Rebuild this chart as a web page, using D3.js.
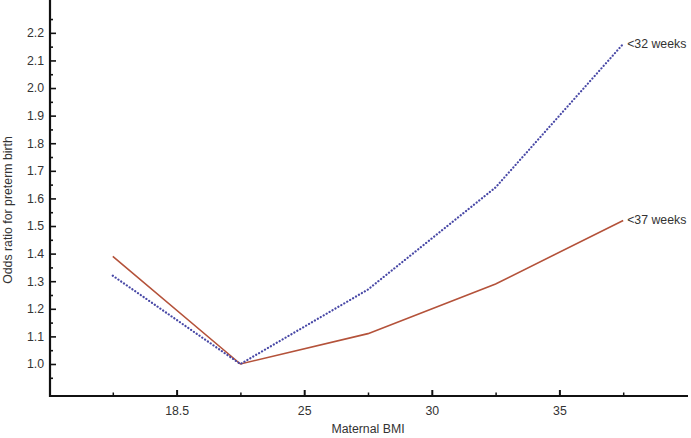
<!DOCTYPE html>
<html><head><meta charset="utf-8">
<script src="https://cdn.jsdelivr.net/npm/d3@7"></script>
<style>body{margin:0;background:#fff}svg{display:block}text{font-family:"Liberation Sans",Arial,sans-serif}</style>
</head><body>
<svg id="c" width="691" height="438"></svg>
<script>
// BMI groups, placed at evenly spaced axis slots
const categories = ["<18.5", "18.5–24.9", "25–29.9", "30–34.9", "≥35"];
const categorySlots = [1, 3, 5, 7, 9];
const series32 = [1.32, 1.00, 1.27, 1.64, 2.16]; // <32 weeks
const series37 = [1.39, 1.00, 1.11, 1.29, 1.52]; // <37 weeks
const xTickLabels = ["18.5", "25", "30", "35"];
const xTickSlots = [2, 4, 6, 8];
const xMinorSlots = [1, 3, 5, 7, 9];
const yTicks = [1.0, 1.1, 1.2, 1.3, 1.4, 1.5, 1.6, 1.7, 1.8, 1.9, 2.0, 2.1, 2.2];
const yMinor = [0.95, 1.05, 1.15, 1.25, 1.35, 1.45, 1.55, 1.65, 1.75, 1.85, 1.95, 2.05, 2.15, 2.25];

const FS = 12.3;
const svg = d3.select("#c");
const x0 = 50, x1 = 687, yTop = 0, yBot = 396;
const x = d3.scaleLinear().domain([0, 10]).range([x0 - 1, x1]);
const y = d3.scaleLinear().domain([0.884, 2.319]).range([yBot, yTop]);

// axes lines
svg.append("line").attr("x1", x0).attr("x2", x0).attr("y1", yTop).attr("y2", yBot + 1)
  .attr("stroke", "#111").attr("stroke-width", 2.2);
svg.append("line").attr("x1", x0 - 1).attr("x2", x1 + 1).attr("y1", yBot).attr("y2", yBot)
  .attr("stroke", "#111").attr("stroke-width", 2.2);

// y axis ticks & labels
const yAxis = d3.axisRight(y).tickValues(yTicks).tickSize(6).tickFormat(d3.format(".1f"));
const gy = svg.append("g").attr("transform", `translate(${x0},0)`).call(yAxis);
gy.select(".domain").remove();
gy.selectAll(".tick line").attr("stroke", "#111").attr("stroke-width", 1.6);
gy.selectAll(".tick text").attr("x", -6).attr("text-anchor", "end")
  .attr("font-size", FS).attr("fill", "#333").attr("font-family", "Liberation Sans, Arial, sans-serif");
const yAxisMinor = d3.axisRight(y).tickValues(yMinor).tickSize(3).tickFormat("");
const gym = svg.append("g").attr("transform", `translate(${x0},0)`).call(yAxisMinor);
gym.select(".domain").remove();
gym.selectAll(".tick line").attr("stroke", "#111").attr("stroke-width", 1.6);

// x axis ticks & labels
const xAxis = d3.axisTop(x).tickValues(xTickSlots).tickSize(6)
  .tickFormat((d, i) => xTickLabels[i]);
const gx = svg.append("g").attr("transform", `translate(0,${yBot})`).call(xAxis);
gx.select(".domain").remove();
gx.selectAll(".tick line").attr("stroke", "#111").attr("stroke-width", 2);
gx.selectAll(".tick text").attr("y", 10).attr("dy", "0.71em")
  .attr("font-size", FS).attr("fill", "#333").attr("font-family", "Liberation Sans, Arial, sans-serif");
const xAxisMinor = d3.axisTop(x).tickValues(xMinorSlots).tickSize(3.5).tickFormat("");
const gxm = svg.append("g").attr("transform", `translate(0,${yBot})`).call(xAxisMinor);
gxm.select(".domain").remove();
gxm.selectAll(".tick line").attr("stroke", "#111").attr("stroke-width", 1.5);

// axis titles
svg.append("text").attr("x", 368).attr("y", 433).attr("text-anchor", "middle")
  .attr("font-size", FS).attr("fill", "#333").text("Maternal BMI");
svg.append("text").attr("transform", "translate(12,210) rotate(-90)").attr("text-anchor", "middle")
  .attr("font-size", FS).attr("fill", "#333").text("Odds ratio for preterm birth");

// lines
const line = d3.line().x((d, i) => x(categorySlots[i])).y(d => y(d));
svg.append("path").datum(series37).attr("d", line).attr("fill", "none")
  .attr("stroke", "#b4523a").attr("stroke-width", 1.6);
svg.append("path").datum(series32).attr("d", line).attr("fill", "none")
  .attr("stroke", "#4848a6").attr("stroke-width", 2.2)
  .attr("stroke-dasharray", "0.1,3.3").attr("stroke-linecap", "round");

// end labels
svg.append("text").attr("x", x(categorySlots[4]) + 4).attr("y", y(series32[4]) + 4)
  .attr("font-size", FS).attr("fill", "#333").text("<32 weeks");
svg.append("text").attr("x", x(categorySlots[4]) + 4).attr("y", y(series37[4]) + 4)
  .attr("font-size", FS).attr("fill", "#333").text("<37 weeks");
</script>
</body></html>
